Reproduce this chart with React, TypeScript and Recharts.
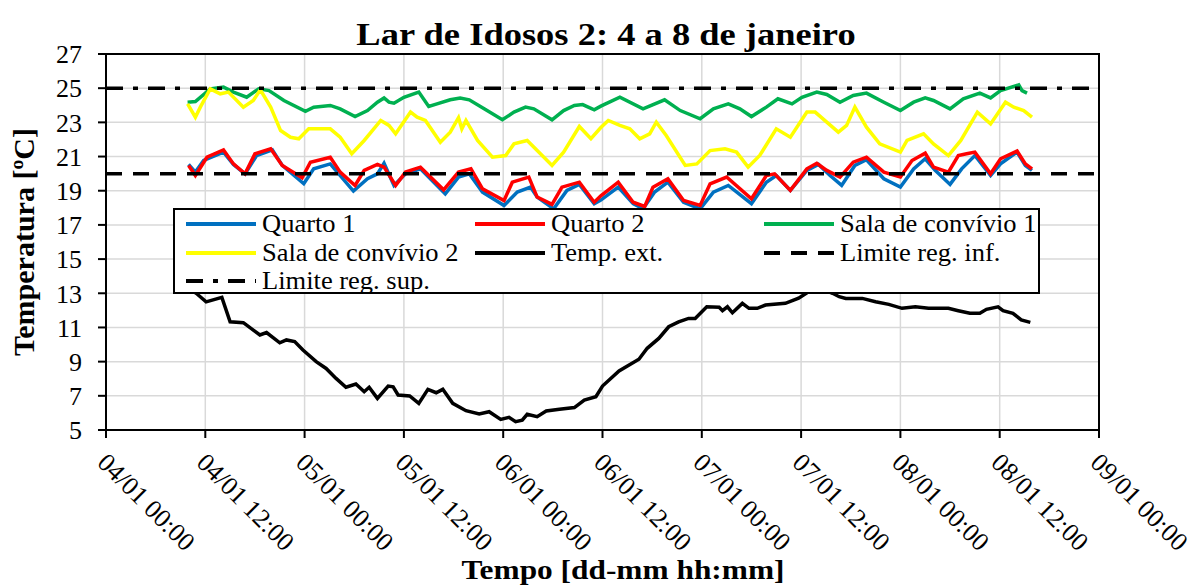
import React from 'react';
import {
  LineChart,
  Line,
  XAxis,
  YAxis,
  CartesianGrid,
  ReferenceLine,
  ReferenceArea,
} from 'recharts';

// hours since 04/01 00:00
const xTicks = [0, 12, 24, 36, 48, 60, 72, 84, 96, 108, 120];
const xTickLabels = [
  '04/01 00:00', '04/01 12:00', '05/01 00:00', '05/01 12:00', '06/01 00:00',
  '06/01 12:00', '07/01 00:00', '07/01 12:00', '08/01 00:00', '08/01 12:00', '09/01 00:00',
];
const yTicks = [5, 7, 9, 11, 13, 15, 17, 19, 21, 23, 25, 27];

const limiteInf = 20;
const limiteSup = 25;

const quarto1: [number, number][] = [
  [9.98, 20.54], [10.8, 20.09], [11.8, 20.77], [14.2, 21.26], [15.4, 20.54], [16.8, 19.99], [18.2, 21.06],
  [20.1, 21.39], [21.3, 20.48], [23.9, 19.41], [25.1, 20.28], [27.1, 20.57], [29.9, 18.98], [31.6, 19.7],
  [32.8, 19.99], [33.6, 20.61], [34.8, 19.31], [36.2, 19.99], [38.0, 20.28], [41.0, 18.82], [42.6, 19.8],
  [43.9, 19.99], [45.5, 18.92], [48.1, 18.14], [49.7, 18.92], [51.3, 19.21], [52.1, 18.63], [54.1, 17.94],
  [55.7, 19.02], [57.2, 19.37], [59.0, 18.24], [59.8, 18.45], [61.9, 19.21], [63.7, 18.24], [64.9, 17.94],
  [66.3, 18.92], [67.9, 19.5], [69.8, 18.33], [71.8, 17.94], [73.4, 18.92], [75.2, 19.31], [78.0, 18.24],
  [79.8, 19.5], [81.0, 19.89], [82.7, 19.02], [84.7, 20.19], [86.1, 20.54], [87.5, 19.89], [88.9, 19.31],
  [90.5, 20.48], [91.9, 20.81], [94.0, 19.7], [96.0, 19.21], [97.6, 20.28], [99.0, 20.87], [100.2, 20.19],
  [102.0, 19.37], [103.4, 20.28], [105.0, 21.06], [106.9, 19.89], [108.1, 20.57], [110.1, 21.26],
  [111.1, 20.48], [111.9, 20.19],
];

const quarto2: [number, number][] = [
  [9.98, 20.48], [10.8, 19.89], [12.2, 20.96], [14.2, 21.39], [15.4, 20.57], [16.8, 19.99], [18.0, 21.16],
  [19.9, 21.45], [21.3, 20.48], [23.7, 19.76], [24.7, 20.67], [27.1, 20.96], [28.3, 20.09], [30.1, 19.31],
  [31.2, 20.19], [32.8, 20.54], [33.6, 20.38], [35.0, 19.31], [36.2, 20.09], [38.0, 20.38], [40.8, 19.05],
  [42.6, 20.09], [44.1, 20.28], [45.5, 19.11], [48.1, 18.43], [49.1, 19.5], [51.1, 19.8], [52.1, 18.63],
  [53.9, 18.2], [55.1, 19.21], [57.2, 19.5], [59.0, 18.33], [59.8, 18.7], [61.9, 19.5], [63.7, 18.33],
  [65.1, 18.08], [66.1, 19.21], [67.9, 19.7], [69.8, 18.43], [71.8, 18.14], [73.0, 19.4], [75.0, 19.8],
  [78.0, 18.53], [79.8, 19.89], [80.8, 19.99], [82.7, 19.02], [84.7, 20.28], [85.9, 20.61], [87.1, 20.19],
  [88.7, 19.8], [90.3, 20.67], [91.9, 20.96], [94.0, 20.09], [96.0, 19.8], [97.4, 20.77], [99.0, 21.2],
  [100.0, 20.38], [101.8, 20.09], [103.0, 21.06], [104.0, 21.16], [105.0, 21.26], [106.9, 19.99],
  [108.1, 20.87], [110.1, 21.32], [111.1, 20.57], [111.9, 20.28],
];

const salaConvivio1: [number, number][] = [
  [9.86, 24.18], [10.8, 24.22], [12.6, 24.96], [14.2, 25.06], [15.4, 24.77], [17.0, 24.47], [18.45, 24.96],
  [19.7, 24.86], [21.5, 24.28], [24.1, 23.65], [25.1, 23.89], [27.1, 23.99], [28.3, 23.79], [30.1, 23.34],
  [31.6, 23.69], [32.8, 24.18], [33.6, 24.43], [34.2, 24.18], [34.8, 24.12], [36.0, 24.47], [37.8, 24.77],
  [39.0, 23.93], [40.0, 24.08], [41.6, 24.32], [42.8, 24.43], [43.9, 24.32], [45.7, 23.79], [47.9, 23.15],
  [49.3, 23.6], [50.7, 23.89], [51.7, 23.79], [53.9, 23.15], [55.3, 23.69], [56.6, 23.99], [57.6, 24.04],
  [59.0, 23.73], [59.8, 23.95], [62.1, 24.47], [64.9, 23.79], [67.5, 24.32], [69.4, 23.69], [71.8, 23.21],
  [73.4, 23.79], [75.2, 24.08], [76.6, 23.79], [78.0, 23.34], [79.8, 23.89], [81.2, 24.38], [82.9, 24.08],
  [84.1, 24.47], [85.9, 24.77], [87.1, 24.63], [88.7, 24.18], [90.3, 24.57], [91.9, 24.71], [94.0, 24.18],
  [96.0, 23.69], [97.6, 24.18], [99.0, 24.43], [100.0, 24.28], [102.0, 23.79], [103.6, 24.38],
  [105.6, 24.71], [106.9, 24.43], [108.1, 24.86], [110.3, 25.19], [110.7, 24.86], [111.3, 24.71],
];

const salaConvivio2: [number, number][] = [
  [9.86, 24.08], [10.8, 23.3], [11.4, 23.89], [12.6, 24.96], [13.8, 24.67], [14.8, 24.77], [16.6, 23.89],
  [17.8, 24.28], [18.65, 24.9], [19.9, 23.89], [21.1, 22.52], [22.3, 22.13], [23.3, 22.04], [24.5, 22.62],
  [27.1, 22.62], [28.3, 22.13], [29.7, 21.16], [31.2, 21.94], [33.2, 23.11], [34.2, 22.82], [35.0, 22.33],
  [36.8, 23.6], [37.6, 23.3], [38.6, 23.11], [40.4, 21.84], [41.6, 22.43], [42.6, 23.27], [43.0, 22.62],
  [43.5, 23.11], [44.9, 21.94], [46.7, 20.96], [48.3, 21.06], [49.3, 21.74], [50.9, 21.94], [52.5, 21.16],
  [53.9, 20.48], [55.3, 21.26], [57.2, 22.76], [58.6, 22.04], [59.8, 22.7], [60.7, 23.11], [62.1, 22.82],
  [63.3, 22.62], [64.5, 22.04], [65.7, 22.33], [66.5, 23.01], [67.7, 22.23], [70.0, 20.48], [71.4, 20.57],
  [73.0, 21.35], [74.8, 21.45], [76.2, 21.26], [77.6, 20.38], [79.0, 21.06], [81.0, 22.62], [82.7, 22.13],
  [84.7, 23.6], [85.7, 23.6], [87.1, 23.01], [88.5, 22.43], [89.5, 22.82], [90.5, 23.89], [91.9, 22.72],
  [93.5, 21.74], [96.0, 21.26], [96.8, 21.94], [98.8, 22.33], [100.0, 21.74], [101.8, 21.06], [103.3, 21.94],
  [105.3, 23.6], [106.9, 22.91], [108.7, 24.18], [109.7, 23.89], [110.9, 23.69], [111.9, 23.3],
];

const tempExt: [number, number][] = [
  [9.7, 13.4], [10.9, 13.0], [12.1, 12.5], [14.0, 12.76], [15.0, 11.33], [16.6, 11.28], [18.6, 10.56],
  [19.4, 10.7], [21.0, 10.1], [21.8, 10.27], [22.8, 10.17], [23.8, 9.68], [25.4, 9.0], [26.6, 8.6],
  [27.8, 8.02], [29.0, 7.5], [30.2, 7.69], [31.2, 7.24], [31.8, 7.5], [32.8, 6.85], [34.1, 7.57],
  [34.7, 7.53], [35.3, 7.05], [36.7, 6.99], [37.8, 6.56], [38.9, 7.38], [39.9, 7.18], [40.7, 7.38],
  [41.9, 6.56], [43.5, 6.13], [45.1, 5.94], [46.3, 6.07], [47.7, 5.62], [48.7, 5.74], [49.5, 5.49],
  [50.3, 5.58], [50.9, 5.92], [52.1, 5.78], [53.2, 6.11], [54.8, 6.21], [56.6, 6.31], [57.8, 6.75],
  [59.2, 6.95], [60.0, 7.57], [62.0, 8.45], [64.4, 9.14], [65.4, 9.78], [66.8, 10.36], [68.0, 11.04],
  [69.2, 11.33], [70.4, 11.53], [71.2, 11.53], [72.6, 12.21], [74.1, 12.18], [74.5, 11.98], [75.1, 12.21],
  [75.7, 11.86], [76.9, 12.41], [77.7, 12.12], [78.7, 12.12], [79.7, 12.31], [82.1, 12.41], [83.7, 12.71],
  [84.9, 13.09], [86.3, 13.3], [87.8, 13.0], [88.6, 12.8], [89.4, 12.7], [91.4, 12.7], [93.0, 12.5],
  [94.6, 12.35], [96.2, 12.12], [97.8, 12.21], [99.4, 12.12], [101.8, 12.12], [103.0, 11.98], [104.4, 11.83],
  [105.6, 11.83], [106.4, 12.06], [107.8, 12.21], [108.4, 11.98], [109.6, 11.83], [110.6, 11.44], [111.7, 11.3],
];

const seriesNames = [
  'Quarto 1', 'Quarto 2', 'Sala de convívio 1', 'Sala de convívio 2', 'Temp. ext.',
  'Limite reg. inf.', 'Limite reg. sup.',
];
const seriesColors = ['#0070C0', '#FF0000', '#00B050', '#FFFF00', '#000000', '#000000', '#000000'];
const seriesDash = ['', '', '', '', '', '16 11', '17 10 5 10'];

const FONT = '"Liberation Serif", "Times New Roman", Times, serif';

const toRows = (pts: [number, number][]) => pts.map(([h, v]) => ({ h, v }));

const XTick = (props: any) => {
  const { x, y, payload } = props;
  const idx = xTicks.indexOf(payload.value);
  const ax = x - 10;
  const ay = y + 24;
  return (
    <text
      x={ax}
      y={ay}
      transform={`rotate(45, ${ax}, ${ay})`}
      textAnchor="start"
      fontSize={26}
      fontFamily={FONT}
      fill="#000"
    >
      {xTickLabels[idx]}
    </text>
  );
};

const LegendBox = () => {
  const colLeft = [11, 300, 589];
  return (
    <div
      style={{
        position: 'absolute',
        left: 173,
        top: 208,
        width: 867,
        height: 86,
        boxSizing: 'border-box',
        border: '2px solid #000',
        background: '#fff',
        fontFamily: FONT,
        zIndex: 5,
      }}
    >
      {seriesNames.map((name, i) => {
        const row = Math.floor(i / 3);
        const col = i % 3;
        return (
          <div
            key={name}
            style={{
              position: 'absolute',
              left: colLeft[col],
              top: 0 + row * 28.5,
              height: 28,
              display: 'flex',
              alignItems: 'center',
              whiteSpace: 'nowrap',
            }}
          >
            <svg width={70} height={10} style={{ display: 'block' }}>
              <line
                x1={0}
                y1={5}
                x2={70}
                y2={5}
                stroke={seriesColors[i]}
                strokeWidth={4}
                strokeDasharray={seriesDash[i] || undefined}
              />
            </svg>
            <span
              style={{
                marginLeft: 6,
                fontSize: 25,
                lineHeight: '28px',
                display: 'inline-block',
                transform: 'scaleX(1.06)',
                transformOrigin: 'left center',
                color: '#000',
              }}
            >
              {name}
            </span>
          </div>
        );
      })}
    </div>
  );
};

export default function App() {
  const lineData = [quarto1, quarto2, salaConvivio1, salaConvivio2, tempExt];
  return (
    <div
      style={{
        position: 'absolute',
        left: 0,
        top: 0,
        width: 1195,
        height: 588,
        background: '#fff',
        fontFamily: FONT,
        overflow: 'hidden',
      }}
    >
      <div
        style={{
          position: 'absolute',
          left: 0,
          top: 18,
          width: 1212,
          textAlign: 'center',
          fontSize: 32,
          lineHeight: '32px',
          fontWeight: 'bold',
          transform: 'scaleX(1.14)',
          whiteSpace: 'nowrap',
          zIndex: 3,
        }}
      >
        Lar de Idosos 2: 4 a 8 de janeiro
      </div>
      <div
        style={{
          position: 'absolute',
          left: 24 - 150,
          top: 242 - 15,
          width: 300,
          height: 30,
          textAlign: 'center',
          fontSize: 30,
          lineHeight: '30px',
          fontWeight: 'bold',
          transform: 'rotate(-90deg)',
          whiteSpace: 'nowrap',
          zIndex: 3,
        }}
      >
        Temperatura [ºC]
      </div>
      <div
        style={{
          position: 'absolute',
          left: 0,
          top: 556,
          width: 1246,
          textAlign: 'center',
          fontSize: 28,
          lineHeight: '28px',
          fontWeight: 'bold',
          transform: 'scaleX(1.12)',
          whiteSpace: 'nowrap',
          zIndex: 3,
        }}
      >
        Tempo [dd-mm hh:mm]
      </div>
      <LineChart width={1195} height={588} margin={{ top: 54, right: 96, bottom: 0, left: 0 }}>
        <CartesianGrid stroke="#D9D9D9" strokeWidth={1.5} />
        <XAxis
          type="number"
          dataKey="h"
          domain={[0, 120]}
          ticks={xTicks}
          interval={0}
          height={158}
          tickSize={8}
          tick={<XTick />}
          axisLine={{ stroke: '#000', strokeWidth: 2 }}
          tickLine={{ stroke: '#000', strokeWidth: 2 }}
          allowDataOverflow
        />
        <YAxis
          type="number"
          domain={[5, 27]}
          ticks={yTicks}
          interval={0}
          width={106}
          tickSize={8}
          tickMargin={16}
          tick={{ fill: '#000', fontSize: 26, fontFamily: FONT }}
          axisLine={{ stroke: '#000', strokeWidth: 2 }}
          tickLine={{ stroke: '#000', strokeWidth: 2 }}
          allowDataOverflow
        />
        {lineData.map((pts, i) => (
          <Line
            key={seriesNames[i]}
            name={seriesNames[i]}
            data={toRows(pts)}
            dataKey="v"
            type="linear"
            stroke={seriesColors[i]}
            strokeWidth={3.5}
            dot={false}
            activeDot={false}
            isAnimationActive={false}
          />
        ))}
        <ReferenceLine y={limiteInf} stroke="#000" strokeWidth={3.5} strokeDasharray={seriesDash[5]} />
        <ReferenceLine y={limiteSup} stroke="#000" strokeWidth={3.5} strokeDasharray={seriesDash[6]} />
        <ReferenceArea
          x1={0}
          x2={120}
          y1={5}
          y2={27}
          fill="none"
          fillOpacity={0}
          stroke="#000"
          strokeWidth={2}
          ifOverflow="visible"
        />
      </LineChart>
      <LegendBox />
    </div>
  );
}
